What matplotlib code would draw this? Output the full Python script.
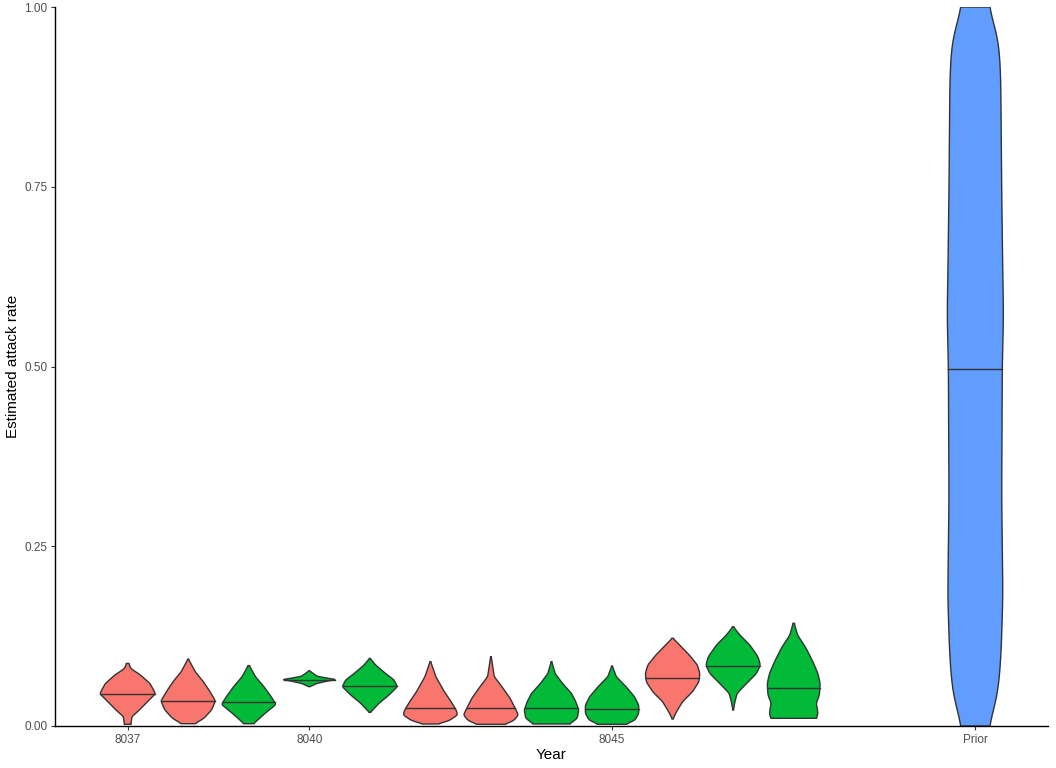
import numpy as np
import matplotlib
matplotlib.use('Agg')
import matplotlib.pyplot as plt

# ── Datos ──
years = [8037, 8038, 8039, 8040, 8041, 8042, 8043, 8044, 8045, 8046, 8047, 8048, 8051]
groups = ['a', 'a', 'b', 'b', 'b', 'a', 'a', 'b', 'b', 'a', 'b', 'b', 'prior']
medians = [0.045, 0.035, 0.033, 0.0645, 0.055, 0.0246, 0.0255, 0.0246, 0.023,
           0.0672, 0.084, 0.053, 0.497]

# perfil de cada violín: niveles de y y semi-anchura (en unidades de año)
profile_y = [
    [0.0024, 0.013, 0.022, 0.034, 0.045, 0.059, 0.071, 0.080, 0.087],
    [0.0032, 0.0107, 0.0222, 0.0348, 0.0477, 0.0616, 0.0756, 0.093],
    [0.0032, 0.0176, 0.030, 0.0408, 0.0547, 0.0686, 0.084],
    [0.0547, 0.059, 0.0625, 0.0645, 0.0665, 0.069, 0.072, 0.077],
    [0.019, 0.0315, 0.043, 0.0547, 0.064, 0.073, 0.0848, 0.094],
    [0.0028, 0.007, 0.0153, 0.0222, 0.034, 0.0477, 0.0686, 0.0895],
    [0.0024, 0.007, 0.0153, 0.0246, 0.0385, 0.0547, 0.0686, 0.0964],
    [0.0028, 0.0107, 0.0222, 0.034, 0.0454, 0.059, 0.073, 0.0895],
    [0.0024, 0.0083, 0.0176, 0.029, 0.0408, 0.0547, 0.0686, 0.0834],
    [0.0097, 0.020, 0.0338, 0.0477, 0.0616, 0.073, 0.0848, 0.0988, 0.1127, 0.122],
    [0.0222, 0.034, 0.0455, 0.059, 0.073, 0.0848, 0.0964, 0.1127, 0.1266, 0.138],
    [0.0107, 0.0153, 0.0246, 0.0315, 0.043, 0.059, 0.073, 0.0895, 0.108, 0.1266, 0.1428],
    [0.0, 0.02, 0.05, 0.10, 0.18, 0.25, 0.32, 0.40, 0.50, 0.57, 0.65, 0.75, 0.85,
     0.90, 0.95, 0.98, 1.0],
]
profile_w = [
    [0.055, 0.07, 0.19, 0.33, 0.46, 0.37, 0.21, 0.05, 0.02],
    [0.11, 0.26, 0.385, 0.45, 0.36, 0.25, 0.115, 0.005],
    [0.08, 0.27, 0.45, 0.37, 0.25, 0.11, 0.01],
    [0.01, 0.12, 0.30, 0.445, 0.30, 0.14, 0.08, 0.005],
    [0.01, 0.15, 0.315, 0.455, 0.40, 0.26, 0.096, 0.005],
    [0.11, 0.30, 0.45, 0.425, 0.34, 0.23, 0.09, 0.005],
    [0.22, 0.37, 0.453, 0.40, 0.316, 0.18, 0.055, 0.005],
    [0.30, 0.425, 0.45, 0.40, 0.33, 0.184, 0.06, 0.005],
    [0.23, 0.38, 0.44, 0.44, 0.37, 0.23, 0.07, 0.005],
    [0.005, 0.066, 0.165, 0.33, 0.435, 0.45, 0.41, 0.275, 0.115, 0.005],
    [0.005, 0.03, 0.066, 0.22, 0.385, 0.45, 0.41, 0.275, 0.11, 0.005],
    [0.37, 0.40, 0.39, 0.37, 0.425, 0.437, 0.40, 0.316, 0.206, 0.063, 0.01],
    [0.214, 0.30, 0.38, 0.425, 0.455, 0.445, 0.435, 0.44, 0.445, 0.465, 0.45,
     0.435, 0.425, 0.42, 0.39, 0.30, 0.214],
]

x_ticks = [8037, 8040, 8045, 8051]
x_labels = ['8037', '8040', '8045', 'Prior']
y_ticks = [0.0, 0.25, 0.5, 0.75, 1.0]

colores = {'a': '#F8766D', 'b': '#00BA38', 'prior': '#619CFF'}


def suavizar(ys, ws, n=300):
    """Curva suave a partir del perfil leído (solo para dibujar)."""
    yy = np.linspace(ys[0], ys[-1], n)
    ww = np.interp(yy, ys, ws)
    k = 14
    pad = np.concatenate([np.full(k, ww[0]), ww, np.full(k, ww[-1])])
    kern = np.hanning(2 * k + 1)
    kern /= kern.sum()
    ww = np.convolve(pad, kern, mode='same')[k:-k]
    return yy, ww


plt.rcParams['font.family'] = ['Liberation Sans', 'DejaVu Sans']

fig = plt.figure(figsize=(10.56, 7.68), dpi=100)
ax = fig.add_axes([55 / 1056, 42 / 768, 993 / 1056, 719 / 768])

for x0, g, med, ys, ws in zip(years, groups, medians, profile_y, profile_w):
    yy, ww = suavizar(ys, ws)
    px = np.concatenate([x0 - ww, (x0 + ww)[::-1]])
    py = np.concatenate([yy, yy[::-1]])
    ax.fill(px, py, facecolor=colores[g], edgecolor='#333333', linewidth=1.0, zorder=2)
    wm = np.interp(med, yy, ww)
    ax.plot([x0 - wm, x0 + wm], [med, med], color='#333333', linewidth=1.0, zorder=3)

ax.set_xlim(8035.8, 8052.2)
ax.set_ylim(0, 1)
ax.set_xticks(x_ticks)
ax.set_xticklabels(x_labels)
ax.set_yticks(y_ticks)
ax.set_yticklabels([f'{v:.2f}' for v in y_ticks])
ax.tick_params(labelsize=8.5, labelcolor='#4D4D4D', color='#333333', length=3, width=0.8, pad=2.5)

for s in ['top', 'right']:
    ax.spines[s].set_visible(False)
for s in ['left', 'bottom']:
    ax.spines[s].set_linewidth(1.0)
    ax.spines[s].set_color('black')

ax.set_xlabel('Year', fontsize=11, labelpad=2)
ax.set_ylabel('Estimated attack rate', fontsize=11, labelpad=3)

plt.savefig('out.png', dpi=100)
plt.close()
